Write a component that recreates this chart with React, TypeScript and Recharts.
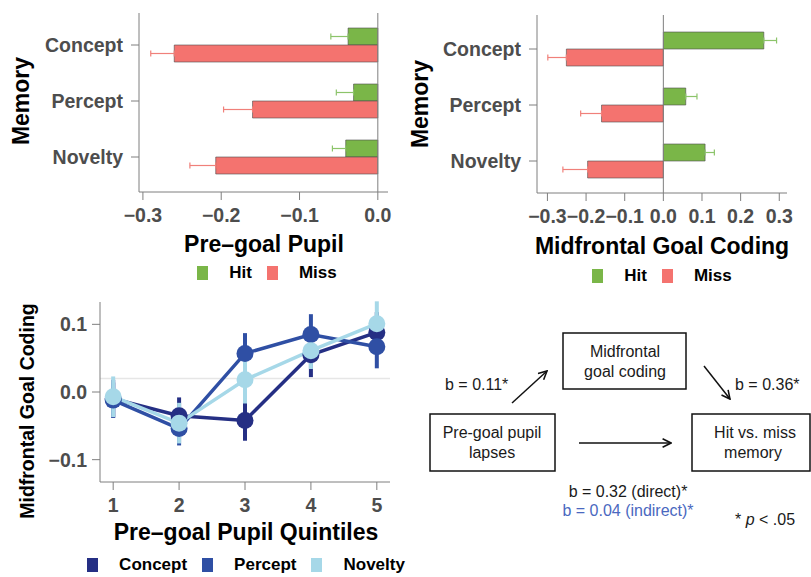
import React from "react"
import { BarChart, Bar, XAxis, YAxis, ErrorBar, ReferenceLine, Legend, LineChart, Line } from "recharts"

const memoryTypes = ["Concept", "Percept", "Novelty"]

// top left: pre-goal pupil
const pupilHit = [-0.038, -0.031, -0.041]
const pupilMiss = [-0.26, -0.16, -0.207]
const pupilHitErr = [0.022, 0.022, 0.017]
const pupilMissErr = [0.03, 0.037, 0.033]
const pupilTicks = [-0.3, -0.2, -0.1, 0]

// top right: midfrontal goal coding
const codingHit = [0.26, 0.058, 0.108]
const codingMiss = [-0.251, -0.16, -0.196]
const codingHitErr = [0.033, 0.029, 0.024]
const codingMissErr = [0.048, 0.054, 0.064]
const codingTicks = [-0.3, -0.2, -0.1, 0, 0.1, 0.2, 0.3]

// bottom left: quintiles
const quintiles = [1, 2, 3, 4, 5]
const conceptLine = [-0.01, -0.035, -0.042, 0.055, 0.088]
const perceptLine = [-0.012, -0.054, 0.057, 0.085, 0.067]
const noveltyLine = [-0.007, -0.046, 0.018, 0.061, 0.101]
const conceptErr = [0.028, 0.027, 0.03, 0.033, 0.03]
const perceptErr = [0.026, 0.025, 0.03, 0.03, 0.032]
const noveltyErr = [0.03, 0.03, 0.035, 0.027, 0.033]
const quintileYTicks = [-0.1, 0, 0.1]

const HIT = "#7ab648"
const MISS = "#f4736f"
const CONCEPT = "#252f84"
const PERCEPT = "#2f4fa4"
const NOVELTY = "#a6d8e8"
const AXIS = "#7f7f7f"
const TICK_TEXT = { fill: "#4d4d4d", fontSize: 19.5, fontWeight: "bold" }

const pupilRows = memoryTypes.map((name, i) => ({
  name,
  hit: pupilHit[i],
  miss: pupilMiss[i],
  hitErr: [pupilHitErr[i], 0],
  missErr: [pupilMissErr[i], 0],
}))

const codingRows = memoryTypes.map((name, i) => ({
  name,
  hit: codingHit[i],
  miss: codingMiss[i],
  hitErr: [0, codingHitErr[i]],
  missErr: [codingMissErr[i], 0],
}))

const quintileRows = quintiles.map((q, i) => ({
  q,
  concept: conceptLine[i],
  percept: perceptLine[i],
  novelty: noveltyLine[i],
  conceptErr: conceptErr[i],
  perceptErr: perceptErr[i],
  noveltyErr: noveltyErr[i],
}))

const fmt = (v: number) => (v < -1e-9 ? "\u2212" : "") + Math.abs(v).toFixed(1)

function Title({ px, py, text, rotate = false, size = 23 }: any) {
  return (
    <text
      x={px}
      y={py}
      textAnchor="middle"
      fontSize={size}
      fontWeight="bold"
      fill="#000"
      transform={rotate ? `rotate(-90 ${px} ${py})` : undefined}
    >
      {text}
    </text>
  )
}

// legend keeps the order of the series, not alphabetical
const makeLegend = (order: string[]) => (props: any) => {
  const items = [...(props.payload || [])].sort((a: any, b: any) => order.indexOf(a.value) - order.indexOf(b.value))
  return (
    <div style={{ display: "flex", justifyContent: "center", alignItems: "center", height: 14 }}>
      {items.map((entry: any, i: number) => (
        <div key={entry.value} style={{ display: "flex", alignItems: "center", marginLeft: i ? 15 : 0 }}>
          <span style={{ width: 11, height: 14, background: entry.color, marginRight: 21 }} />
          <span style={{ fontSize: 17, fontWeight: "bold", color: "#000", lineHeight: "14px" }}>{entry.value}</span>
        </div>
      ))}
    </div>
  )
}

function PupilPanel() {
  return (
    <div style={{ position: "absolute", left: 0, top: 0 }}>
      <BarChart
        width={400}
        height={290}
        data={pupilRows}
        layout="vertical"
        margin={{ top: 13, right: 12, bottom: 68, left: 39 }}
        barSize={17}
        barGap={0}
      >
        <XAxis
          type="number"
          domain={[-0.305, 0.013]}
          allowDataOverflow
          ticks={pupilTicks}
          interval={0}
          tickFormatter={fmt}
          height={30}
          stroke={AXIS}
          tickSize={8}
          tickMargin={8}
          tick={TICK_TEXT}
          label={<Title px={264} py={252} text="Pre–goal Pupil" />}
        />
        <YAxis
          type="category"
          dataKey="name"
          width={100}
          padding={{ top: 4, bottom: 7 }}
          stroke={AXIS}
          tickSize={8}
          tickMargin={8}
          tick={TICK_TEXT}
          label={<Title px={29} py={101} text="Memory" rotate />}
        />
        <ReferenceLine x={0} stroke={AXIS} />
        <Bar dataKey="hit" name="Hit" fill={HIT} stroke="#4d4d4d" strokeWidth={0.6} isAnimationActive={false}>
          <ErrorBar dataKey="hitErr" direction="x" width={3} stroke="#8cc46a" strokeWidth={1.2} />
        </Bar>
        <Bar dataKey="miss" name="Miss" fill={MISS} stroke="#4d4d4d" strokeWidth={0.6} isAnimationActive={false}>
          <ErrorBar dataKey="missErr" direction="x" width={3} stroke="#f0807a" strokeWidth={1.2} />
        </Bar>
        <Legend
          layout="horizontal"
          verticalAlign="middle"
          align="center"
          content={makeLegend(["Hit", "Miss"])}
          wrapperStyle={{ left: 139, top: 266, width: 256 }}
        />
      </BarChart>
    </div>
  )
}

function CodingPanel() {
  return (
    <div style={{ position: "absolute", left: 400, top: 0 }}>
      <BarChart
        width={411}
        height={290}
        data={codingRows}
        layout="vertical"
        margin={{ top: 15, right: 24, bottom: 67, left: 37 }}
        barSize={17}
        barGap={0}
      >
        <XAxis
          type="number"
          domain={[-0.327, 0.32]}
          allowDataOverflow
          ticks={codingTicks}
          interval={0}
          tickFormatter={fmt}
          height={30}
          stroke={AXIS}
          tickSize={8}
          tickMargin={8}
          tick={TICK_TEXT}
          label={<Title px={262} py={254} text="Midfrontal Goal Coding" />}
        />
        <YAxis
          type="category"
          dataKey="name"
          width={100}
          padding={{ top: 6, bottom: 4 }}
          stroke={AXIS}
          tickSize={8}
          tickMargin={8}
          tick={TICK_TEXT}
          label={<Title px={28} py={104} text="Memory" rotate />}
        />
        <ReferenceLine x={0} stroke={AXIS} />
        <Bar dataKey="hit" name="Hit" fill={HIT} stroke="#4d4d4d" strokeWidth={0.6} isAnimationActive={false}>
          <ErrorBar dataKey="hitErr" direction="x" width={3} stroke="#8cc46a" strokeWidth={1.2} />
        </Bar>
        <Bar dataKey="miss" name="Miss" fill={MISS} stroke="#4d4d4d" strokeWidth={0.6} isAnimationActive={false}>
          <ErrorBar dataKey="missErr" direction="x" width={3} stroke="#f0807a" strokeWidth={1.2} />
        </Bar>
        <Legend
          layout="horizontal"
          verticalAlign="middle"
          align="center"
          content={makeLegend(["Hit", "Miss"])}
          wrapperStyle={{ left: 137, top: 269, width: 250 }}
        />
      </BarChart>
    </div>
  )
}

function QuintilePanel() {
  const series = [
    { key: "concept", name: "Concept", color: CONCEPT },
    { key: "percept", name: "Percept", color: PERCEPT },
    { key: "novelty", name: "Novelty", color: NOVELTY },
  ]
  return (
    <div style={{ position: "absolute", left: 0, top: 290 }}>
      <LineChart width={410} height={287} data={quintileRows} margin={{ top: 12, right: 20, bottom: 65, left: 20 }}>
        <XAxis
          type="number"
          dataKey="q"
          domain={[0.8, 5.2]}
          allowDataOverflow
          ticks={quintiles}
          interval={0}
          height={30}
          stroke={AXIS}
          tickSize={8}
          tickMargin={8}
          tick={TICK_TEXT}
          label={<Title px={246} py={250} text="Pre–goal Pupil Quintiles" />}
        />
        <YAxis
          type="number"
          domain={[-0.133, 0.133]}
          allowDataOverflow
          ticks={quintileYTicks}
          interval={0}
          tickFormatter={fmt}
          width={80}
          stroke={AXIS}
          tickSize={8}
          tickMargin={5}
          tick={TICK_TEXT}
          label={<Title px={34} py={121} text="Midfrontal Goal Coding" size={19.5} rotate />}
        />
        <ReferenceLine y={0.02} stroke="#e6e6e6" strokeWidth={1.5} />
        {series.map((s) => (
          <Line
            key={s.key}
            type="linear"
            dataKey={s.key}
            name={s.name}
            stroke={s.color}
            strokeWidth={3.5}
            dot={{ r: 8.5, fill: s.color, stroke: s.color, strokeWidth: 0 }}
            activeDot={false}
            isAnimationActive={false}
          >
            <ErrorBar dataKey={s.key + "Err"} direction="y" width={0} stroke={s.color} strokeWidth={4} />
          </Line>
        ))}
        <Legend
          layout="horizontal"
          verticalAlign="middle"
          align="center"
          content={makeLegend(series.map((s) => s.name))}
          wrapperStyle={{ left: 92, top: 268, width: 308 }}
        />
      </LineChart>
    </div>
  )
}

function Arrow({ x1, y1, x2, y2 }: any) {
  return <line x1={x1} y1={y1} x2={x2} y2={y2} stroke="#111" strokeWidth={1.5} markerEnd="url(#head)" />
}

function MediationDiagram() {
  const text = { fontSize: 16, fill: "#1a1a1a" }
  return (
    <svg style={{ position: "absolute", left: 0, top: 0 }} width={811} height={577}>
      <defs>
        <marker id="head" viewBox="0 0 10 10" refX="9" refY="5" markerWidth="7" markerHeight="7" orient="auto">
          <path d="M1,1 L9,5 L1,9" fill="none" stroke="#111" strokeWidth={1.5} />
        </marker>
      </defs>
      <rect x={563} y={333} width={123} height={56} fill="none" stroke="#111" strokeWidth={1.5} />
      <rect x={430} y={414} width={125} height={57} fill="none" stroke="#111" strokeWidth={1.5} />
      <rect x={692} y={414} width={118} height={57} fill="none" stroke="#111" strokeWidth={1.5} />
      <text x={625} y={357} textAnchor="middle" {...text}>Midfrontal</text>
      <text x={625} y={377} textAnchor="middle" {...text}>goal coding</text>
      <text x={492} y={438} textAnchor="middle" {...text}>Pre-goal pupil</text>
      <text x={492} y={458} textAnchor="middle" {...text}>lapses</text>
      <text x={755} y={438} textAnchor="middle" {...text}>Hit vs. miss</text>
      <text x={753} y={458} textAnchor="middle" {...text}>memory</text>
      <Arrow x1={512} y1={403} x2={547} y2={371} />
      <Arrow x1={704} y1={366} x2={730} y2={399} />
      <Arrow x1={579} y1={443} x2={671} y2={443} />
      <text x={445} y={390} {...text}>b = 0.11*</text>
      <text x={735} y={390} {...text}>b = 0.36*</text>
      <text x={628} y={497} textAnchor="middle" {...text}>b = 0.32 (direct)*</text>
      <text x={628} y={516} textAnchor="middle" {...text} fill="#4a68c0">b = 0.04 (indirect)*</text>
      <text x={735} y={525} {...text}>
        * <tspan fontStyle="italic">p</tspan> &lt; .05
      </text>
    </svg>
  )
}

export default function App() {
  return (
    <div
      style={{
        position: "absolute",
        left: 0,
        top: 0,
        width: 811,
        height: 577,
        background: "#fff",
        overflow: "hidden",
        fontFamily: "'Liberation Sans', Arial, sans-serif",
      }}
    >
      <MediationDiagram />
      <PupilPanel />
      <CodingPanel />
      <QuintilePanel />
    </div>
  )
}
